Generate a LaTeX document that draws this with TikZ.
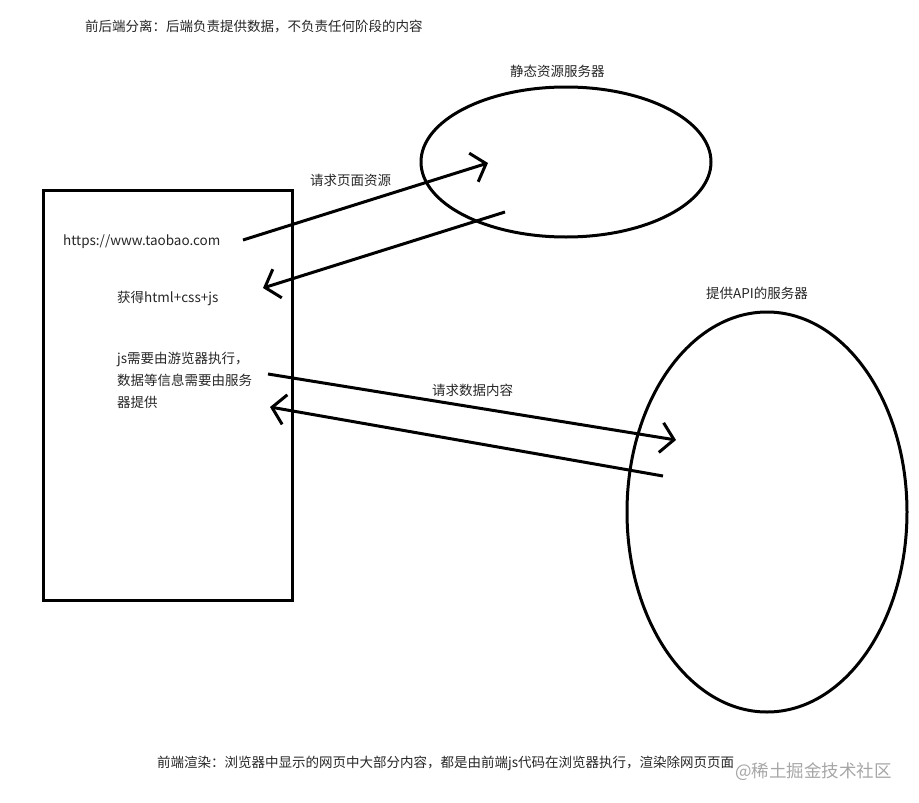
\documentclass[tikz,border=0pt]{standalone}
\usepackage{fontspec}
\newfontfamily\cjk{Noto Sans CJK SC}
\usetikzlibrary{arrows.meta,shapes.geometric}
\begin{document}
\begin{tikzpicture}[x=1pt,y=-1pt,
  txt/.style={font=\cjk\fontsize{13.5}{22}\selectfont,anchor=west,inner sep=0pt,align=left,text=black!85},
  shp/.style={line width=3pt},
  arr/.style={line width=3pt,-{Straight Barb[length=13pt,width=30pt,line width=3pt]}}]
\useasboundingbox (0,0) rectangle (919,803);
\node[txt] (title) at (85,27) {前后端分离：后端负责提供数据，不负责任何阶段的内容};
\node[txt] (l1) at (510,71) {静态资源服务器};
\node[txt] (l2) at (706,293) {提供API的服务器};
\node[txt] (l3) at (310,180) {请求页面资源};
\node[txt] (l4) at (432,390) {请求数据内容};
\draw[shp] (43,190) rectangle (292,600);
\node[shp,draw,ellipse,minimum width=290pt,minimum height=150pt,inner sep=0pt] (s1) at (566,162) {};
\node[shp,draw,ellipse,minimum width=280pt,minimum height=400pt,inner sep=0pt] (s2) at (767,512) {};
\node[txt] (url) at (63,242) {https://www.taobao.com};
\node[txt] (get) at (117,298) {获得html+css+js};
\node[txt,text width=170pt] (js) at (117,380) {js需要由游览器执行，\\数据等信息需要由服务\\器提供};
\coordinate (a1s) at (243,240); \coordinate (a1e) at (488,163);
\coordinate (a2s) at (505,212); \coordinate (a2e) at (263,288);
\coordinate (a3s) at (268,374); \coordinate (a3e) at (676,440);
\coordinate (a4s) at (663,476); \coordinate (a4e) at (270,407);
\draw[arr] (a1s) -- (a1e);
\draw[arr] (a2s) -- (a2e);
\draw[arr] (a3s) -- (a3e);
\draw[arr] (a4s) -- (a4e);
\node[txt] (foot) at (157,763) {前端渲染：浏览器中显示的网页中大部分内容，都是由前端js代码在浏览器执行，渲染除网页页面};
\node[txt,text=black!35,font=\cjk\fontsize{17.5}{20}\selectfont] (wm) at (735,772) {@稀土掘金技术社区};
\end{tikzpicture}
\end{document}
